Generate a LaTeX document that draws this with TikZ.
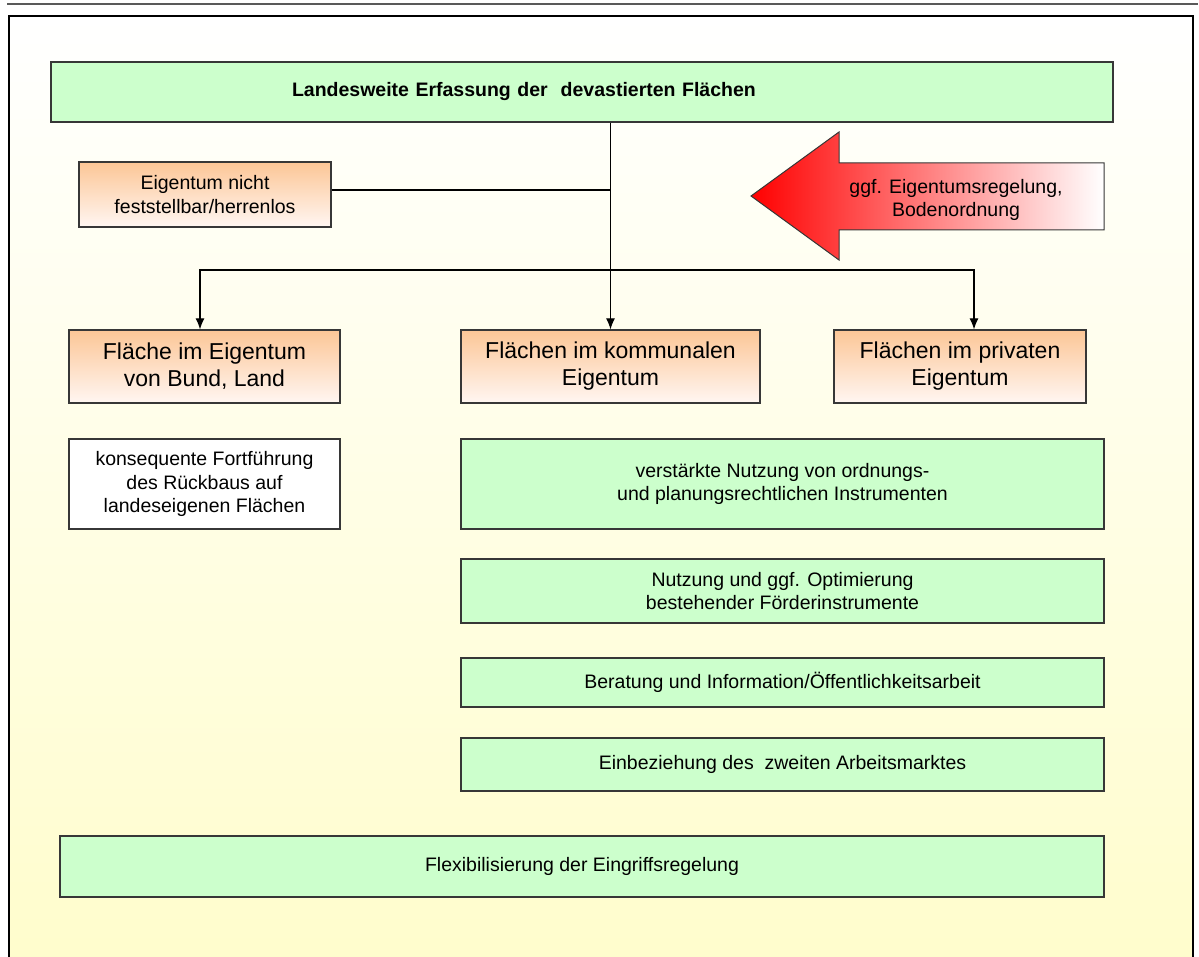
\documentclass[tikz,border=0pt]{standalone}
\usepackage{fontspec}
\setmainfont{Liberation Sans}
\usetikzlibrary{arrows.meta,shadows}

\definecolor{boxgreen}{RGB}{204,255,204}
\definecolor{orangetop}{RGB}{252,198,150}
\definecolor{orangebot}{RGB}{255,246,242}
\definecolor{bgyellow}{RGB}{255,253,204}
\definecolor{rimgray}{RGB}{55,55,55}

\newcommand{\smalltext}{\fontsize{19.5}{23.4}\selectfont}
\newcommand{\headtext}{\fontsize{23}{27}\selectfont}

\begin{document}
\begin{tikzpicture}[
    x=1pt, y=-1pt,
    box/.style={
      draw=rimgray, line width=1.2pt, inner sep=0pt, align=center, font=\smalltext,
      drop shadow={shadow xshift=1.2pt, shadow yshift=-1.2pt, fill=black!35}
    },
    greenbox/.style={box, fill=boxgreen},
    whitebox/.style={box, fill=white},
    orangebox/.style={box, top color=orangetop, bottom color=orangebot},
    headbox/.style={orangebox, font=\headtext},
    conn/.style={line width=1.2pt},
    >={Latex[length=11pt,width=9pt]}
]

  \useasboundingbox (0,0) rectangle (1199,957);
  \clip (0,0) rectangle (1199,957);

  % page frame
  \shade[top color=white, bottom color=bgyellow] (9,16) rectangle (1193,965);
  \draw[line width=2.6pt] (9,965) -- (9,16) -- (1193,16) -- (1193,965);
  \draw[line width=1.8pt, black!65] (7,4) -- (1198,4);

  % top row
  \node[greenbox, minimum width=1062pt, minimum height=60pt, text width=1062pt,
        align=left, font=\smalltext\bfseries] (erfassung) at (582,92)
        {\hspace*{241pt}Landesweite Erfassung der\ \ devastierten Fl\"achen};
  \node[orangebox, minimum width=252pt, minimum height=65pt] (herrenlos) at (205,194.5)
        {Eigentum nicht\\feststellbar/herrenlos};

  % red arrow
  \path[draw=rimgray, line width=1pt, left color=red, middle color=red!35, right color=white]
    (751,196) -- (839,132) -- (839,163) -- (1104,163) -- (1104,230)
    -- (839,230) -- (839,260) -- cycle;
  \node[font=\smalltext, align=center] (regelung) at (956,200)
        {ggf. Eigentumsregelung,\\Bodenordnung};

  % owner boxes
  \node[headbox, minimum width=271pt, minimum height=73pt] (bund) at (204.5,366.5)
        {Fl\"ache im Eigentum\\von Bund, Land};
  \node[headbox, minimum width=299pt, minimum height=73pt] (kommunal) at (610.5,366.5)
        {Fl\"achen im kommunalen\\Eigentum};
  \node[headbox, minimum width=252pt, minimum height=73pt] (privat) at (960,366.5)
        {Fl\"achen im privaten\\Eigentum};

  % measures
  \node[whitebox, minimum width=271pt, minimum height=90pt] (rueckbau) at (204.5,484)
        {konsequente Fortf\"uhrung\\des R\"uckbaus auf\\landeseigenen Fl\"achen};
  \node[greenbox, minimum width=643pt, minimum height=90pt] (ordnung) at (782.5,484)
        {verst\"arkte Nutzung von ordnungs-\\und planungsrechtlichen Instrumenten};
  \node[greenbox, minimum width=643pt, minimum height=64pt] (foerder) at (782.5,591)
        {Nutzung und ggf. Optimierung\\bestehender F\"orderinstrumente};
  \node[greenbox, minimum width=643pt, minimum height=49pt] (beratung) at (782.5,682.5)
        {Beratung und Information/\"Offentlichkeitsarbeit};
  \node[greenbox, minimum width=643pt, minimum height=53pt] (arbeitsmarkt) at (782.5,764.5)
        {Einbeziehung des\ \ zweiten Arbeitsmarktes};
  \node[greenbox, minimum width=1044pt, minimum height=61pt] (eingriff) at (582,866.5)
        {Flexibilisierung der Eingriffsregelung};

  % connectors
  \coordinate (split) at (kommunal.north |- 0,270);
  \draw[conn,->] (erfassung.south -| kommunal.north) -- (kommunal.north);
  \draw[conn] ([yshift=4.5pt]herrenlos.east) -- ([yshift=4.5pt]herrenlos.east -| kommunal.north);
  \draw[conn,->] (split) -| ([xshift=-4.5pt]bund.north);
  \draw[conn,->] (split) -| ([xshift=14pt]privat.north);

\end{tikzpicture}
\end{document}
